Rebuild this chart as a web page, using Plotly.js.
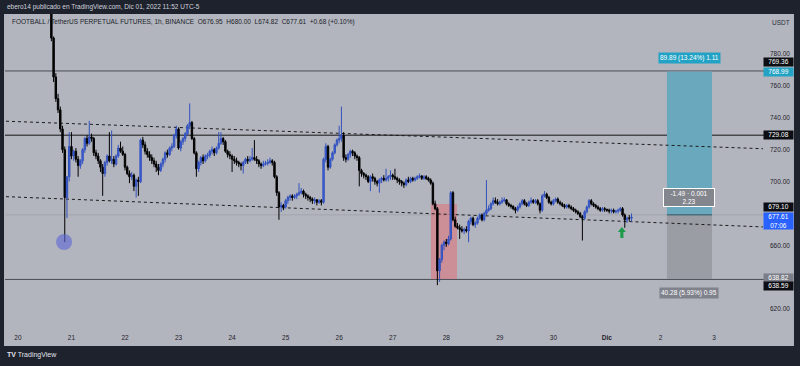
<!DOCTYPE html>
<html><head><meta charset="utf-8">
<script src="https://cdn.plot.ly/plotly-3.0.1.min.js"></script>
<style>html,body{margin:0;padding:0;background:#1e222d;overflow:hidden}#chart{width:800px;height:366px}</style>
</head><body><div id="chart"></div>
<script>
// FOOTBALL/USDT perpetual, 1h candles, first candle Nov 20 13:00 (hours counted from Nov 20 00:00)
const firstHour = 13;
const opens = [842,828,808,790,765.6,752,745,733,720,690,703,
722,716,719,714,710,713,720,727,724,728,727,718,716,713,709,705,712,716,713,714,711,716,721,719,
717,709,705,703,704,697,701,700,726,723,719,717,715,713,711,709,707,711,714,718,717,721,722,729,
733,721,725,727,730,735,737,727,718,708,712,715,713,716,716.5,719,720,718,721,724,727,725,719,717,
716,714,713,712,711,710,712,714,713,714,715,714,713,711,710,711,711.5,712,713,712,703,693,684,685,
684,688,690,691,690,691,692,693,694,692,691,690,689,688,688.5,687,688,687,714,722,709,714,718,723,
726,727,729,715,714,717,719,718,716,715,707,705,704,703,700,703,702,700,699,701,702,701,702,703,
704,703,702,701,700,699,698,701,700,702,701,702,703,703.5,702,703,702,701,699,686,683,644,651,660,
662,661,664,693,676,672,671,670,669,670,669,675,677,673,674,677,679,676,680,682,683,686,688,687,
686,687,688,688.5,686,685,684.5,683,682,684,686,688,686,685,687,688,687,688,686,682,691,692,690,687,
686,688,689,687,686,685,684,685,684,683,682,681,680,678,677,681,684,688,686,685,684,683,682,683,
682.5,682,681.5,682,681,681.5,682,683,679,676,677,676.95];
const highs = [846,830,810,791,768,755,747,735,722,694,731,
731,720,721,716,714,721,728,729,738,730,728,720,718,714,711,713,717,731,732,716,717,723,725,722,
718,710,707,706,705,702,703,727,728,725,721,719,717,715,713,711,712,715,719,720,722,724,730,735,
734,726,728,731,736,749,738,728,719,713,716,717,717,718,720,722,721,722,731,731,728,726,720,719,
717,716,715,713,712,713,715,716,716,721,726,716,714,712,713,713,714,715,714,713,704,694,687,686,
689,691,692,692,692,693,699,696,695,693,692,691,690,690,689,689,689,715,724,723,715,719,724,727,
735,747,731,717,718,720,720,719,717,716,708,706,705,704,704,705,703,701,702,703,704,708,704,707,
705,708,703,702,701,700,702,703,703,703,703,704,705,704,704,704,703,702,700,688,684,652,661,663,
664,666,694,694,678,674,673,672,671,672,676,678,678,675,678,680,680,681,701,685,687,690,690,689,
688,690,690,689,687,686,685,684,685,687,689,689,687,688,690,689,689,689,687,692,694,693,691,688,
689,690,690,688,687,686,686,686,685,684,683,682,681,679,682,685,689,689,687,686,685,684,684,684,
683,683,683,683,682,683,684,684,680,678,679,680];
const lows = [826,806,788,762.4,750,743,731,718,662,677,700,
714,713,712,703,708,711,718,722,723,725,716,714,711,706,691,703,710,712,711,709,710,715,718,716,
707,704,699,701,694,690,691,699,721,717,715,713,711,709,706,704,706,709,712,715,716,719,721,727,
720,719,723,725,729,733,726,717,703,706,710,711,712,714,715,717,716,717,720,723,723,718,715,714,
706,711,710,709,707,705,711,711,712,713,713,711,709,708,709,710,710,711,710,702,691,676,681,682,
683,686,688,688,689,689,691,692,690,689,688,687,686,686,685,686,685,686,712,707,708,713,717,722,
724,725,713,712,713,715,716,714,713,697,703,702,701,699,694,700,698,697,693,699,700,700,700,701,
701,701,699,698,697,696,697,699,699,700,700,701,702,701,701,701,700,698,685,682,635,637,649,657,
659,660,663,675,671,670,664,668,667,668,662,673,672,671,673,676,675,675,679,681,682,685,686,685,
685,686,687,685,684,683,682,680,681,683,685,685,684,684,686,686,686,685,680,681,690,689,686,685,
685,687,686,685,684,683,683,683,682,681,680,679,677,663,676,680,683,685,684,683,682,681,681,681,
681,680,680,680,680,680,681,678,671,674,675,674.82];
const closes = [828,808,790,765.6,752,745,733,720,690,703,722,
716,719,714,710,713,720,727,724,728,727,718,716,713,709,705,712,716,713,714,711,716,721,719,717,
709,705,703,704,697,701,700,726,723,719,717,715,713,711,709,707,711,714,718,717,721,722,729,733,
721,725,727,730,735,737,727,718,708,712,715,713,716,716.5,719,720,718,721,724,727,725,719,717,716,
714,713,712,711,710,712,714,713,714,715,714,713,711,710,711,711.5,712,713,712,703,693,684,685,684,
688,690,691,690,691,692,693,694,692,691,690,689,688,688.5,687,688,687,714,722,709,714,718,723,726,
727,729,715,714,717,719,718,716,715,707,705,704,703,700,703,702,700,699,701,702,701,702,703,704,
703,702,701,700,699,698,701,700,702,701,702,703,703.5,702,703,702,701,699,686,683,644,651,660,662,
661,664,693,676,672,671,670,669,670,669,675,677,673,674,677,679,676,680,682,683,686,688,687,686,
687,688,688.5,686,685,684.5,683,682,684,686,688,686,685,687,688,687,688,686,682,691,692,690,687,686,
688,689,687,686,685,684,685,684,683,682,681,680,678,677,681,684,688,686,685,684,683,682,683,682.5,
682,681.5,682,681,681.5,682,683,679,676,677,676.95,677.61];
const dayLabels = ["20","21","22","23","24","25","26","27","28","29","30","<b>Dic</b>","2","3"];
const priceTicks = [620,660,700,720,740,760,780];

// drawn levels and tool values
const targetLevel = 769.36, tpLevel = 768.99, resistLevel = 729.08;
const entryLevel = 679.10, lastPrice = 677.61, stopLevel = 638.82, supportLevel = 638.59;

const hours = closes.map((_, i) => firstHour + i);
const dayTicks = dayLabels.map((_, i) => i * 24);

const F = 'Liberation Sans, Arial, sans-serif';
const trace = {
  type: 'candlestick', x: hours, open: opens, high: highs, low: lows, close: closes,
  increasing: {line: {color: '#3452be', width: 1}, fillcolor: '#3b62dc'},
  decreasing: {line: {color: '#000000', width: 1}, fillcolor: '#000000'},
  whiskerwidth: 0, hoverinfo: 'skip'
};

const hline = (y, color, extra) => Object.assign({type: 'line', xref: 'paper', x0: 0, x1: 1, yref: 'y', y0: y, y1: y, line: {color: color, width: 1}, layer: 'below'}, extra || {});

const shapes = [
  {type: 'rect', xref: 'paper', yref: 'paper', x0: -0.0013, x1: 1.0395, y0: -0.054, y1: 1.0, fillcolor: '#b2b5be', line: {width: 0}, layer: 'below'},
  // red zone
  {type: 'rect', x0: 185.1, x1: 196.8, y0: 638.8, y1: 685.9, fillcolor: 'rgba(236,96,104,0.45)', line: {width: 0}, layer: 'below'},
  // circle at the wick
  {type: 'circle', x0: 17.1, x1: 24.3, y0: 657.0, y1: 667.1, fillcolor: 'rgba(92,102,214,0.6)', line: {width: 0}, layer: 'above'},
  // long position tool
  {type: 'rect', x0: 290.9, x1: 311.1, y0: entryLevel, y1: tpLevel, fillcolor: '#6aa8bd', line: {width: 0}, layer: 'below'},
  {type: 'rect', x0: 290.9, x1: 311.1, y0: stopLevel, y1: entryLevel, fillcolor: '#9b9da4', line: {width: 0}, layer: 'below'},
  {type: 'line', x0: 290.9, x1: 311.1, y0: entryLevel, y1: entryLevel, line: {color: '#2e5564', width: 1}},
  // horizontal levels
  hline(targetLevel, '#4a4d57'),
  hline(resistLevel, '#141414'),
  hline(supportLevel, '#4a4d57'),
  hline(entryLevel, '#a2a5ad'),
  // trend lines
  {type: 'line', x0: -8.02, x1: 333.93, y0: 737.97, y1: 720.59, line: {color: '#1b1b1b', width: 1, dash: 'dot'}, layer: 'below'},
  {type: 'line', x0: -8.02, x1: 333.93, y0: 690.67, y1: 671.53, line: {color: '#1b1b1b', width: 1, dash: 'dot'}, layer: 'below'},
  // green arrow
  {type: 'path', path: 'M 270.7 671.5 L 272.5 668.3 L 271.4 668.3 L 271.4 664.6 L 270.0 664.6 L 270.0 668.3 L 268.9 668.3 Z', fillcolor: '#1c9c4a', line: {width: 0}}
];

const box = (y, txt, bg, shift, h) => ({xref: 'paper', x: 0.9987, xanchor: 'left', yref: 'y', y: y, yanchor: 'middle', yshift: shift,
  text: txt, showarrow: false, bgcolor: bg, width: 29, height: h || 7.5, borderpad: 0,
  font: {family: F, size: 6.5, color: '#ffffff'}});

const annotations = [
  {xref: 'paper', yref: 'paper', x: 0, y: 1.022, xanchor: 'left', yanchor: 'middle', showarrow: false,
   text: 'ebero14 publicado en TradingView.com, Dic 01, 2022 11:52 UTC-5', font: {family: F, size: 6.5, color: '#d1d4dc'}},
  {xref: 'paper', yref: 'paper', x: 0.0066, y: 0.9746, xanchor: 'left', yanchor: 'middle', showarrow: false,
   text: 'FOOTBALL / TetherUS PERPETUAL FUTURES, 1h, BINANCE  O676.95  H680.00  L674.82  C677.61  +0.68 (+0.10%)', font: {family: F, size: 6.5, color: '#1c1f29'}},
  {xref: 'paper', yref: 'paper', x: 1.008, y: 0.9746, xanchor: 'left', yanchor: 'middle', showarrow: false,
   text: 'USDT', font: {family: F, size: 6.5, color: '#2a2e39'}},
  {xref: 'paper', yref: 'paper', x: 0, y: -0.0825, xanchor: 'left', yanchor: 'middle', showarrow: false,
   text: '<b>TV</b> TradingView', font: {family: F, size: 7, color: '#e0e3eb'}},
  box(targetLevel, '769.36', '#0c0e14', 8.7),
  box(tpLevel, '768.99', '#23a3c4', 0),
  box(resistLevel, '729.08', '#0c0e14', 0),
  box(entryLevel, '679.10', '#0c0e14', 8),
  box(lastPrice, '677.61<br>07:06', '#2962ff', -3.3, 16),
  box(stopLevel, '638.82', '#7b7e88', 1.5),
  box(supportLevel, '638.59', '#0c0e14', -7),
  {x: 301, y: tpLevel, yanchor: 'bottom', yshift: 8, showarrow: false, text: '89.89 (13.24%) 1.11',
   bgcolor: '#22a2c4', borderpad: 1, font: {family: F, size: 6.5, color: '#ffffff'}},
  {x: 301, y: entryLevel, yanchor: 'bottom', yshift: 7.5, showarrow: false, text: '-1.49 · 0.001<br>2.23',
   bgcolor: '#84868e', bordercolor: '#ffffff', borderwidth: 1, borderpad: 1, width: 48, font: {family: F, size: 6.5, color: '#ffffff'}},
  {x: 301, y: stopLevel, yanchor: 'top', yshift: -8.4, showarrow: false, text: '40.28 (5.93%) 0.95',
   bgcolor: '#7f828b', borderpad: 1, font: {family: F, size: 6.5, color: '#ffffff'}}
];

const layout = {
  width: 800, height: 366, margin: {l: 5, r: 36, t: 14, b: 37},
  paper_bgcolor: '#1e222d', plot_bgcolor: '#b2b5be', showlegend: false, dragmode: false, boxgap: 0.1,
  xaxis: {range: [-5.78, 334.4], tickvals: dayTicks, ticktext: dayLabels, showgrid: false, zeroline: false, showline: false,
    ticks: '', ticklabelstandoff: 3, tickfont: {family: F, size: 6.5, color: '#1f222b'}, rangeslider: {visible: false}, fixedrange: true},
  yaxis: {side: 'right', range: [607.5, 805.09], tickvals: priceTicks, tickformat: '.2f', showgrid: false, zeroline: false,
    showline: false, ticks: '', ticklabelstandoff: 5, tickfont: {family: F, size: 6.5, color: '#1f222b'}, fixedrange: true},
  shapes: shapes, annotations: annotations
};

Plotly.newPlot('chart', [trace], layout, {displayModeBar: false, staticPlot: true});
</script></body></html>
